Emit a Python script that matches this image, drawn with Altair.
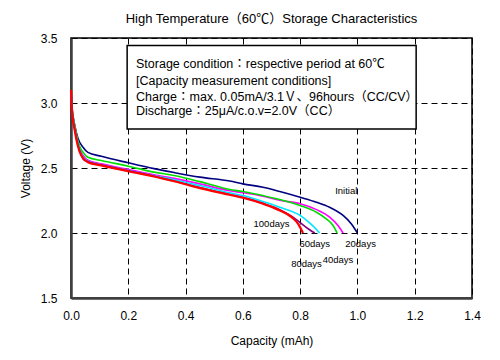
import altair as alt
import pandas as pd

FONT = "Liberation Sans, Arial, Noto Sans CJK JP, sans-serif"

series_names = ["Initial", "20days", "40days", "60days", "80days", "100days"]
series_colors = ["#000080", "#ff00ff", "#00dd00", "#00e5ff", "#800080", "#ff0000"]
series_widths = [1.6, 1.6, 1.6, 1.6, 1.6, 2.2]

x_initial = [0, 0.003, 0.013, 0.024, 0.042, 0.059, 0.106, 0.2, 0.29, 0.36, 0.45, 0.554, 0.6, 0.67, 0.729, 0.8, 0.857, 0.903, 0.95, 0.979, 1.0]
v_initial = [3.09, 2.98, 2.83, 2.73, 2.66, 2.62, 2.59, 2.54, 2.495, 2.465, 2.43, 2.40, 2.378, 2.352, 2.319, 2.275, 2.237, 2.198, 2.135, 2.07, 2.0]

x_20 = [0, 0.003, 0.013, 0.024, 0.036, 0.042, 0.059, 0.106, 0.2, 0.29, 0.36, 0.45, 0.554, 0.6, 0.67, 0.729, 0.8, 0.857, 0.903, 0.932, 0.95]
v_20 = [3.09, 2.97, 2.82, 2.70, 2.62, 2.596, 2.56, 2.532, 2.488, 2.448, 2.42, 2.378, 2.325, 2.31, 2.283, 2.252, 2.225, 2.18, 2.122, 2.058, 2.0]

x_40 = [0, 0.003, 0.013, 0.024, 0.036, 0.042, 0.059, 0.106, 0.2, 0.29, 0.36, 0.45, 0.554, 0.6, 0.67, 0.729, 0.8, 0.857, 0.891, 0.915, 0.929]
v_40 = [3.09, 2.975, 2.825, 2.71, 2.64, 2.622, 2.583, 2.558, 2.514, 2.468, 2.442, 2.395, 2.335, 2.319, 2.288, 2.258, 2.212, 2.16, 2.109, 2.058, 2.0]

x_60 = [0, 0.003, 0.013, 0.024, 0.036, 0.042, 0.059, 0.106, 0.2, 0.29, 0.36, 0.45, 0.554, 0.6, 0.67, 0.729, 0.8, 0.833, 0.857, 0.868]
v_60 = [3.09, 2.965, 2.81, 2.69, 2.61, 2.585, 2.552, 2.525, 2.48, 2.44, 2.41, 2.365, 2.309, 2.288, 2.242, 2.198, 2.135, 2.078, 2.027, 2.0]

x_80 = [0, 0.003, 0.013, 0.024, 0.036, 0.042, 0.059, 0.106, 0.2, 0.29, 0.36, 0.45, 0.554, 0.6, 0.67, 0.729, 0.77, 0.8, 0.833, 0.851]
v_80 = [3.09, 2.96, 2.80, 2.68, 2.60, 2.57, 2.548, 2.522, 2.478, 2.437, 2.40, 2.35, 2.296, 2.274, 2.228, 2.18, 2.13, 2.08, 2.025, 2.0]

x_100 = [0, 0.003, 0.013, 0.024, 0.036, 0.059, 0.106, 0.2, 0.29, 0.36, 0.45, 0.554, 0.6, 0.67, 0.729, 0.77, 0.793, 0.81]
v_100 = [3.1, 2.95, 2.79, 2.67, 2.596, 2.545, 2.52, 2.475, 2.435, 2.398, 2.345, 2.294, 2.271, 2.225, 2.173, 2.122, 2.07, 2.0]

series_x = [x_initial, x_20, x_40, x_60, x_80, x_100]
series_v = [v_initial, v_20, v_40, v_60, v_80, v_100]

label_text = ["Initial", "20days", "40days", "60days", "80days", "100days"]
label_x = [0.961, 1.011, 0.932, 0.851, 0.822, 0.70]
label_v = [2.322, 1.912, 1.796, 1.912, 1.763, 2.071]

box_lines = [
    "Storage condition：respective period at 60℃",
    "[Capacity measurement conditions]",
    "Charge：max. 0.05mA/3.1Ｖ、96hours（CC/CV）",
    "Discharge：25μA/c.o.v=2.0V（CC）",
]
box_line_v = [3.30, 3.168, 3.05, 2.937]
box_left = 0.227
box_rect = {"x": [0.196], "x2": [1.205], "y": [3.442], "y2": [2.80]}

x_ticks = [0.0, 0.2, 0.4, 0.6, 0.8, 1.0, 1.2, 1.4]
y_ticks = [1.5, 2.0, 2.5, 3.0, 3.5]

xscale = alt.Scale(domain=[0, 1.4], nice=False, zero=False)
yscale = alt.Scale(domain=[1.5, 3.5], nice=False, zero=False)

xaxis = alt.Axis(values=x_ticks, format=".1f", title="Capacity (mAh)", ticks=False, labelFlush=False,
                 labelPadding=12, grid=True, gridColor="#000000", gridDash=[6, 4], gridWidth=1,
                 domainColor="#404040", domainWidth=2.5, labelFont=FONT, labelFontSize=12,
                 labelColor="#000000", titleFont=FONT, titleFontSize=12, titleFontWeight="normal",
                 titleColor="#000000", titleX=200.5, titleY=42, titleBaseline="middle")
yaxis = alt.Axis(values=y_ticks, format=".1f", title="Voltage (V)", ticks=False, labelFlush=False,
                 labelPadding=14, grid=True, gridColor="#000000", gridDash=[6, 4], gridWidth=1,
                 domainColor="#404040", domainWidth=2.5, labelFont=FONT, labelFontSize=12,
                 labelColor="#000000", titleFont=FONT, titleFontSize=12, titleFontWeight="normal",
                 titleColor="#000000", titleX=-46, titleY=130, titleAngle=-90,
                 titleBaseline="middle", titleAlign="center")

layers = []
for i, name in enumerate(series_names):
    df = pd.DataFrame({"cap": series_x[i], "volt": series_v[i], "series": name})
    layers.append(
        alt.Chart(df).mark_line(color=series_colors[i], strokeWidth=series_widths[i],
                                interpolate="monotone").encode(
            x=alt.X("cap:Q", scale=xscale, axis=xaxis),
            y=alt.Y("volt:Q", scale=yscale, axis=yaxis),
            order="cap:Q")
    )

box = alt.Chart(pd.DataFrame(box_rect)).mark_rect(fill="white", stroke="black", strokeWidth=1.5).encode(
    x=alt.X("x:Q", scale=xscale, axis=xaxis), x2="x2:Q",
    y=alt.Y("y:Q", scale=yscale, axis=yaxis), y2="y2:Q")

box_text = alt.Chart(pd.DataFrame({"t": box_lines, "v": box_line_v, "x": [box_left] * 4})).mark_text(
    align="left", baseline="middle", font=FONT, fontSize=12.5, color="#000000").encode(
    x=alt.X("x:Q", scale=xscale, axis=xaxis), y=alt.Y("v:Q", scale=yscale, axis=yaxis), text="t:N")

labels = alt.Chart(pd.DataFrame({"t": label_text, "x": label_x, "v": label_v})).mark_text(
    align="center", baseline="middle", font=FONT, fontSize=9.5, color="#000000").encode(
    x=alt.X("x:Q", scale=xscale, axis=xaxis), y=alt.Y("v:Q", scale=yscale, axis=yaxis), text="t:N")

chart = alt.layer(*layers, box, box_text, labels).properties(
    width=401, height=260,
    title=alt.TitleParams("High Temperature（60℃）Storage Characteristics", font=FONT, fontSize=13,
                          fontWeight="normal", color="#000000", anchor="middle", offset=6),
    autosize=alt.AutoSizeParams(type="none"),
    padding={"left": 63, "top": 30, "right": 20, "bottom": 50},
).configure(background="white", view=alt.ViewConfig(stroke="#000000", strokeWidth=1.5))

chart.save("out.html", embed_options={"renderer": "svg", "actions": False})
